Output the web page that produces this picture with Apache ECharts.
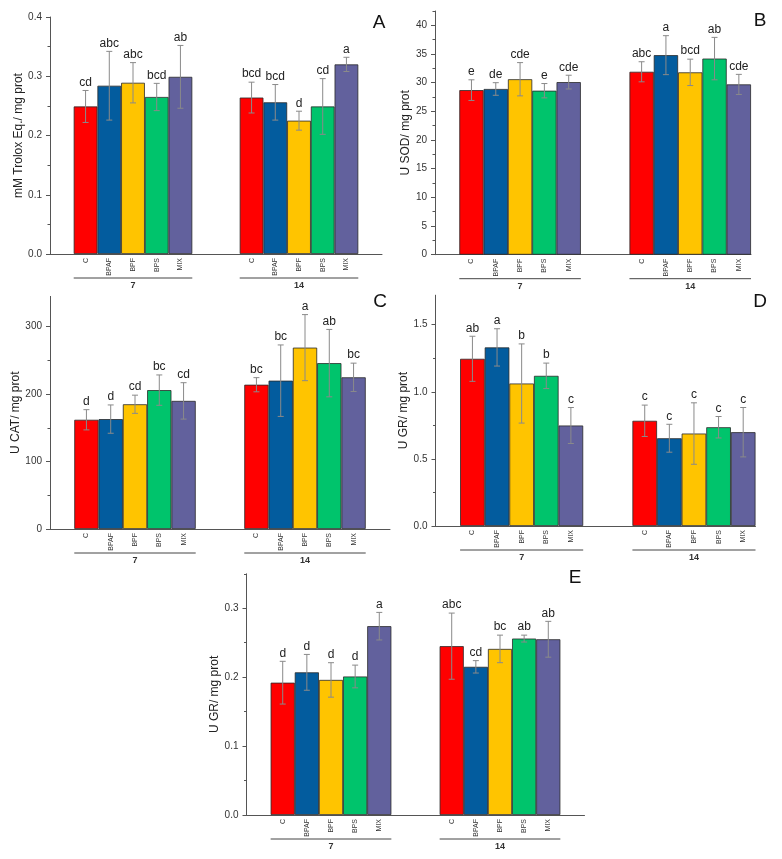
<!DOCTYPE html>
<html><head><meta charset="utf-8">
<script src="https://cdn.jsdelivr.net/npm/echarts@6/dist/echarts.min.js"></script>
<style>html,body{margin:0;padding:0;background:#fff}#c{width:782px;height:859px}</style>
</head><body><div id="c"></div>
<script>
// ---------------- data ----------------
const treatments = ['C', 'BPAF', 'BPF', 'BPS', 'MIX'];
const days = ['7', '14'];

const aMean7 = [0.249, 0.284, 0.289, 0.265, 0.299];
const aSd7 = [0.027, 0.058, 0.034, 0.023, 0.053];
const aLet7 = ['cd', 'abc', 'abc', 'bcd', 'ab'];
const aMean14 = [0.264, 0.256, 0.225, 0.249, 0.320];
const aSd14 = [0.026, 0.030, 0.016, 0.047, 0.012];
const aLet14 = ['bcd', 'bcd', 'd', 'cd', 'a'];
const aTicks = [0, 0.1, 0.2, 0.3, 0.4];

const bMean7 = [28.7, 28.9, 30.6, 28.6, 30.1];
const bSd7 = [1.8, 1.1, 2.9, 1.25, 1.2];
const bLet7 = ['e', 'de', 'cde', 'e', 'cde'];
const bMean14 = [31.9, 34.8, 31.8, 34.2, 29.7];
const bSd14 = [1.75, 3.4, 2.3, 3.7, 1.75];
const bLet14 = ['abc', 'a', 'bcd', 'ab', 'cde'];
const bTicks = [0, 5, 10, 15, 20, 25, 30, 35, 40];

const cMean7 = [162, 163, 185, 206, 190];
const cSd7 = [15, 21, 13.5, 22.5, 27];
const cLet7 = ['d', 'd', 'cd', 'bc', 'cd'];
const cMean14 = [214, 220, 269, 246, 225];
const cSd14 = [10.5, 53, 49, 50, 21];
const cLet14 = ['bc', 'bc', 'a', 'ab', 'bc'];
const cTicks = [0, 100, 200, 300];

const dMean7 = [1.246, 1.331, 1.062, 1.119, 0.749];
const dSd7 = [0.168, 0.139, 0.295, 0.095, 0.134];
const dLet7 = ['ab', 'a', 'b', 'b', 'c'];
const dMean14 = [0.784, 0.654, 0.689, 0.736, 0.699];
const dSd14 = [0.117, 0.104, 0.229, 0.080, 0.184];
const dLet14 = ['c', 'c', 'c', 'c', 'c'];
const dTicks = [0, 0.5, 1.0, 1.5];

const eMean7 = [0.192, 0.207, 0.196, 0.201, 0.274];
const eSd7 = [0.031, 0.026, 0.025, 0.0165, 0.020];
const eLet7 = ['d', 'd', 'd', 'd', 'a'];
const eMean14 = [0.245, 0.215, 0.241, 0.256, 0.255];
const eSd14 = [0.048, 0.009, 0.020, 0.005, 0.026];
const eLet14 = ['abc', 'cd', 'bc', 'ab', 'ab'];
const eTicks = [0, 0.1, 0.2, 0.3];

// ---------------- styles / layout ----------------
const colors = ['#ff0000', '#035c9e', '#ffc400', '#00c46c', '#62619d'];
const FONT = 'Liberation Sans, Arial, sans-serif';

const panels = [
  { key: 'A', name: 'mM Trolox Eq./ mg prot', m: [aMean7, aMean14], s: [aSd7, aSd14], l: [aLet7, aLet14], ticks: aTicks, max: 0.4, minor: 0.05, dec: 1,
    grid: { left: 50, top: 17, width: 332, height: 237 }, trail: true, nameGap: 21, letterPos: [379, 23] },
  { key: 'B', name: 'U SOD/ mg prot', m: [bMean7, bMean14], s: [bSd7, bSd14], l: [bLet7, bLet14], ticks: bTicks, max: 42.5, minor: 2.5, dec: 0,
    grid: { left: 435, top: 11, width: 316, height: 243.7 }, trail: false, nameGap: 19, letterPos: [760, 21] },
  { key: 'C', name: 'U CAT/ mg prot', m: [cMean7, cMean14], s: [cSd7, cSd14], l: [cLet7, cLet14], ticks: cTicks, max: 345, minor: 50, dec: 0,
    grid: { left: 50, top: 296.4, width: 340, height: 232.6 }, trail: true, nameGap: 28, letterPos: [380, 302] },
  { key: 'D', name: 'U GR/ mg prot', m: [dMean7, dMean14], s: [dSd7, dSd14], l: [dLet7, dLet14], ticks: dTicks, max: 1.72, minor: 0.25, dec: 1,
    grid: { left: 435.5, top: 295.2, width: 320, height: 230.8 }, trail: false, nameGap: 23, letterPos: [760, 302] },
  { key: 'E', name: 'U GR/ mg prot', m: [eMean7, eMean14], s: [eSd7, eSd14], l: [eLet7, eLet14], ticks: eTicks, max: 0.35, minor: 0.05, dec: 1,
    grid: { left: 246.5, top: 573.8, width: 338, height: 241.2 }, trail: true, nameGap: 24, letterPos: [575, 578] }
];

// slot layout: leading gap, group 7, two gap slots, group 14, optional trailing gap
function buildSlots(trail) {
  const cats = [''], tIdx = [-1], gIdx = [-1];
  days.forEach((d, g) => {
    if (g > 0) { cats.push('', ''); tIdx.push(-1, -1); gIdx.push(-1, -1); }
    treatments.forEach((t, i) => { cats.push(t); tIdx.push(i); gIdx.push(g); });
  });
  if (trail) { cats.push(''); tIdx.push(-1); gIdx.push(-1); }
  return { cats, tIdx, gIdx };
}

const grids = [], xAxes = [], yAxes = [], series = [];
panels.forEach((p, k) => {
  const sl = buildSlots(p.trail);
  p.slots = sl;
  grids.push(Object.assign({ containLabel: false }, p.grid));
  xAxes.push({
    type: 'category', gridIndex: k, data: sl.cats, boundaryGap: true,
    axisLine: { show: true, lineStyle: { color: '#555', width: 1 } },
    axisTick: { show: false },
    axisLabel: { interval: 0, rotate: 90, fontSize: 7, color: '#333', margin: 4, fontFamily: FONT },
    splitLine: { show: false }
  });
  const minors = [];
  const nMin = Math.round(p.max / p.minor);
  for (let j = 0; j <= nMin; j++) {
    const v = +(j * p.minor).toFixed(6);
    if (!p.ticks.some(t => Math.abs(t - v) < 1e-9) && v <= p.max + 1e-9) minors.push(v);
  }
  yAxes.push({
    type: 'value', gridIndex: k, position: 'left', min: 0, max: p.max, interval: p.ticks[1] - p.ticks[0],
    name: p.name, nameLocation: 'middle', nameGap: p.nameGap,
    nameTextStyle: { fontSize: 12, color: '#222', fontFamily: FONT },
    axisLine: { show: true, lineStyle: { color: '#555', width: 1 } },
    axisTick: { show: true, inside: false, length: 4, customValues: p.ticks, lineStyle: { color: '#555' } },
    axisLabel: { customValues: p.ticks, fontSize: 10, color: '#333', margin: 8, fontFamily: FONT,
      formatter: v => Number(v).toFixed(p.dec) },
    splitLine: { show: false }
  });
  yAxes.push({
    type: 'value', gridIndex: k, position: 'left', offset: 0, min: 0, max: p.max,
    axisLine: { show: false },
    axisTick: { show: true, inside: false, length: 2.5, customValues: minors, lineStyle: { color: '#555' } },
    axisLabel: { show: false },
    splitLine: { show: false }
  });
  const barData = sl.cats.map((c, i) => sl.tIdx[i] < 0 ? null : p.m[sl.gIdx[i]][sl.tIdx[i]]);
  series.push({
    type: 'bar', xAxisIndex: k, yAxisIndex: 2 * k, data: barData,
    barWidth: '100%', barCategoryGap: '0%', animation: false,
    itemStyle: { color: prm => colors[sl.tIdx[prm.dataIndex]], borderColor: '#2a2a2a', borderWidth: 0.8 }
  });
  const errData = [], letters = [];
  sl.cats.forEach((c, i) => {
    if (sl.tIdx[i] < 0) return;
    const g = sl.gIdx[i], t = sl.tIdx[i];
    errData.push([i, p.m[g][t], p.s[g][t]]);
    letters.push(p.l[g][t]);
  });
  series.push({
    type: 'custom', xAxisIndex: k, yAxisIndex: 2 * k, data: errData, animation: false, z: 5, clip: false,
    renderItem: (params, api) => {
      const x = api.value(0), m = api.value(1), s = api.value(2);
      const top = api.coord([x, m + s]), bot = api.coord([x, m - s]);
      const cap = 3, st = { stroke: '#8a8a8a', lineWidth: 1 };
      return { type: 'group', children: [
        { type: 'line', shape: { x1: top[0], y1: top[1], x2: bot[0], y2: bot[1] }, style: st },
        { type: 'line', shape: { x1: top[0] - cap, y1: top[1], x2: top[0] + cap, y2: top[1] }, style: st },
        { type: 'line', shape: { x1: bot[0] - cap, y1: bot[1], x2: bot[0] + cap, y2: bot[1] }, style: st },
        { type: 'text', style: { text: letters[params.dataIndex], x: top[0], y: top[1] - 2, textAlign: 'center',
          textVerticalAlign: 'bottom', fontSize: 12, fill: '#222', fontFamily: FONT } }
      ] };
    }
  });
});

const chart = echarts.init(document.getElementById('c'), null, { renderer: 'canvas' });
chart.setOption({ animation: false, backgroundColor: '#fff', grid: grids, xAxis: xAxes, yAxis: yAxes, series: series });

// group brackets, day labels and panel letters
const gfx = [];
panels.forEach((p, k) => {
  const sl = p.slots;
  const slotW = p.grid.width / sl.cats.length;
  const y0 = chart.convertToPixel({ yAxisIndex: 2 * k }, 0);
  days.forEach((d, g) => {
    const idxs = sl.gIdx.map((v, i) => v === g ? i : -1).filter(i => i >= 0);
    const x1 = chart.convertToPixel({ xAxisIndex: k }, idxs[0]) - slotW / 2;
    const x2 = chart.convertToPixel({ xAxisIndex: k }, idxs[idxs.length - 1]) + slotW / 2;
    gfx.push({ type: 'line', shape: { x1: x1, y1: y0 + 24, x2: x2, y2: y0 + 24 }, style: { stroke: '#444', lineWidth: 1 } });
    gfx.push({ type: 'text', x: (x1 + x2) / 2, y: y0 + 32, style: { text: d, textAlign: 'center', textVerticalAlign: 'middle',
      fontSize: 9, fontWeight: 'bold', fill: '#333', fontFamily: FONT } });
  });
  gfx.push({ type: 'text', x: p.letterPos[0], y: p.letterPos[1], style: { text: p.key, textAlign: 'center', textVerticalAlign: 'middle',
    fontSize: 19, fill: '#111', fontFamily: FONT } });
});
chart.setOption({ graphic: gfx });
</script></body></html>
